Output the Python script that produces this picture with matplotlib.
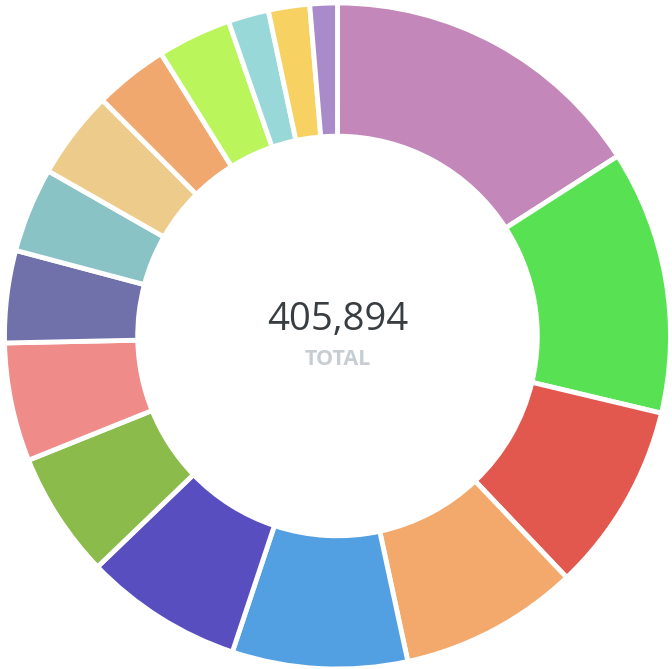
import matplotlib
matplotlib.use("Agg")
import matplotlib.pyplot as plt

values = [64605, 51977, 37320, 35290, 34501, 31231, 24805, 23339,
          18152, 16687, 17363, 14544, 14544, 8005, 8118, 5413]
colors = ["#C387B9", "#58E253", "#E2584F", "#F3A86C", "#52A0E2", "#584EC0",
          "#8ABB4B", "#EF8B89", "#7070AA", "#8AC3C6", "#EDCB8A", "#F1A86F",
          "#B9F55B", "#99D8D9", "#F7D262", "#A98BC9"]
total_label = "TOTAL"

W, H = 672, 669
R = 333.0
cx, cy = 337.5, 336.0

fig = plt.figure(figsize=(W / 100, H / 100), dpi=100)
ax = fig.add_axes([0, 0, 1, 1])
ax.axis("off")

ax.pie(values, colors=colors, startangle=90, counterclock=False, radius=1.0,
       wedgeprops=dict(width=0.4, edgecolor="white", linewidth=3.5))
ax.set_xlim(-cx / R, (W - cx) / R)
ax.set_ylim(-(H - cy) / R, cy / R)
ax.set_aspect("auto")

total = sum(values)
ax.text(0, 16 / R, f"{total:,}", ha="center", va="center", fontsize=27.5,
        color="#383D42", family="Open Sans", fontweight="medium")
ax.text(0, -24 / R, total_label, ha="center", va="center", fontsize=15.5,
        color="#C8CDD2", family="Open Sans", fontweight="bold")

fig.savefig("out.png", dpi=100)
